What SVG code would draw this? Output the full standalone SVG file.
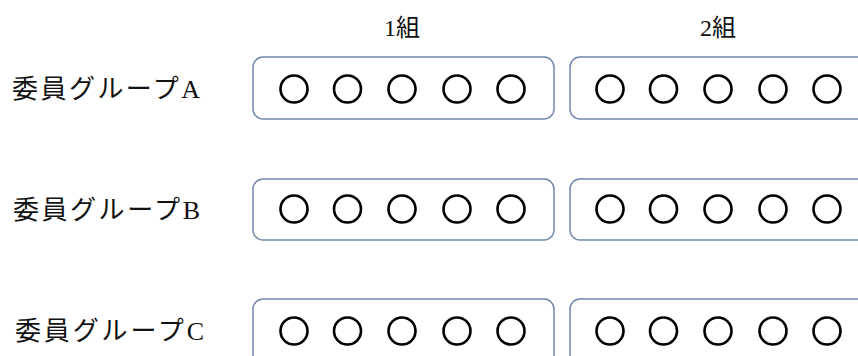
<svg xmlns="http://www.w3.org/2000/svg" width="858" height="356" viewBox="0 0 858 356">
<style>
.lbl{font-family:"Liberation Serif","Noto Sans CJK JP",serif;font-size:26px;fill:#111;}
.hdr{font-family:"Liberation Serif","Noto Sans CJK JP",serif;font-size:24px;fill:#111;}
.box{fill:#fff;stroke:#7089ab;stroke-width:1.5;}
.c{fill:none;stroke:#000;stroke-width:2.6;}
</style>
<defs>
<g id="five">
<circle class="c" cx="0" cy="0" r="13.5"/>
<circle class="c" cx="53.5" cy="0" r="13.5"/>
<circle class="c" cx="108" cy="0" r="13.5"/>
<circle class="c" cx="163" cy="0" r="13.5"/>
<circle class="c" cx="217" cy="0" r="13.5"/>
</g>
</defs>
<rect width="858" height="356" fill="#fff"/>
<g id="headers">
<text class="hdr" x="402" y="36" text-anchor="middle">1組</text>
<text class="hdr" x="718" y="36" text-anchor="middle">2組</text>
</g>
<g id="groupA">
<text class="lbl" x="12" y="98" textLength="188" lengthAdjust="spacing">委員グループA</text>
<rect class="box" x="253" y="57" width="301" height="62" rx="10"/>
<use href="#five" x="294" y="89"/>
<rect class="box" x="570" y="57" width="300" height="62" rx="10"/>
<use href="#five" x="610" y="89"/>
</g>
<g id="groupB">
<text class="lbl" x="13" y="219" textLength="187" lengthAdjust="spacing">委員グループB</text>
<rect class="box" x="253" y="179" width="301" height="61" rx="10"/>
<use href="#five" x="294" y="209"/>
<rect class="box" x="570" y="179" width="300" height="61" rx="10"/>
<use href="#five" x="610" y="209"/>
</g>
<g id="groupC">
<text class="lbl" x="15" y="340" textLength="189" lengthAdjust="spacing">委員グループC</text>
<rect class="box" x="253" y="299" width="301" height="70" rx="10"/>
<use href="#five" x="294" y="331"/>
<rect class="box" x="570" y="299" width="300" height="70" rx="10"/>
<use href="#five" x="610" y="331"/>
</g>
<g id="connectors"/>
</svg>
